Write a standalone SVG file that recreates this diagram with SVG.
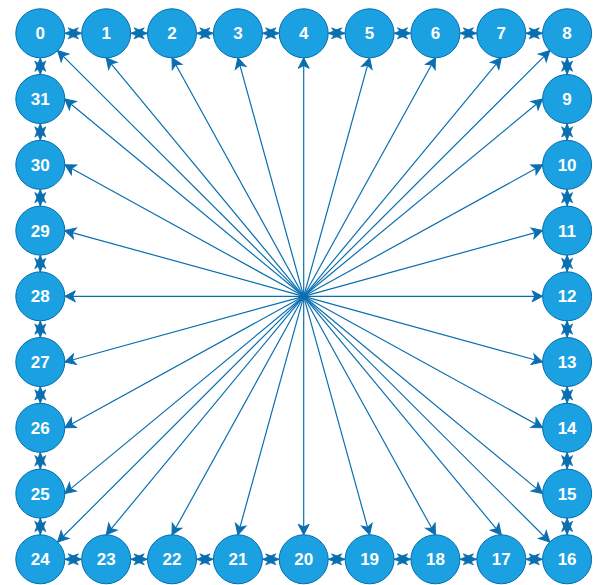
<svg xmlns="http://www.w3.org/2000/svg" width="598" height="585" viewBox="0 0 598 585">
<style>
.nd circle{fill:#1ba1e2;stroke:#006eaf;stroke-width:1}
.nd text{fill:#ffffff;font-family:"Liberation Sans",Arial,sans-serif;font-weight:bold;font-size:17px;text-anchor:middle}
.e{stroke:#0a6fb0;stroke-width:1.2;fill:none;marker-end:url(#ah)}
.b{stroke:#0a6fb0;stroke-width:1.2;fill:none;marker-end:url(#bt);marker-start:url(#bt)}
</style>
<defs>
<marker id="ah" viewBox="-12 -7 13 14" refX="0" refY="0" markerWidth="13" markerHeight="14" orient="auto-start-reverse" markerUnits="userSpaceOnUse">
<path d="M0,0 L-10.5,-5.5 L-7.8,0 L-10.5,5.5 Z" fill="#0a6fb0" stroke="#0a6fb0" stroke-width="1" stroke-linejoin="miter"/>
</marker>
<marker id="bt" viewBox="-15 -7 16 14" refX="0" refY="0" markerWidth="16" markerHeight="14" orient="auto-start-reverse" markerUnits="userSpaceOnUse">
<path d="M0,0 L-13.5,-5.5 L-10,0 L-13.5,5.5 Z" fill="#0a6fb0" stroke="#0a6fb0" stroke-width="0.8" stroke-linejoin="miter"/>
</marker>
</defs>
<rect width="598" height="585" fill="#ffffff"/>
<g id="connectors">
<line class="e" x1="303.7" y1="296.3" x2="57.6" y2="50.6"/>
<line class="e" x1="303.7" y1="296.3" x2="106.2" y2="57.8"/>
<line class="e" x1="303.7" y1="296.3" x2="172" y2="57.8"/>
<line class="e" x1="303.7" y1="296.3" x2="237.9" y2="57.8"/>
<line class="e" x1="303.7" y1="296.3" x2="303.7" y2="57.8"/>
<line class="e" x1="303.7" y1="296.3" x2="369.6" y2="57.8"/>
<line class="e" x1="303.7" y1="296.3" x2="435.4" y2="57.8"/>
<line class="e" x1="303.7" y1="296.3" x2="501.3" y2="57.8"/>
<line class="e" x1="303.7" y1="296.3" x2="549.8" y2="50.6"/>
<line class="e" x1="303.7" y1="296.3" x2="542.6" y2="99"/>
<line class="e" x1="303.7" y1="296.3" x2="542.6" y2="164.8"/>
<line class="e" x1="303.7" y1="296.3" x2="542.6" y2="230.6"/>
<line class="e" x1="303.7" y1="296.3" x2="542.6" y2="296.3"/>
<line class="e" x1="303.7" y1="296.3" x2="542.6" y2="362"/>
<line class="e" x1="303.7" y1="296.3" x2="542.6" y2="427.8"/>
<line class="e" x1="303.7" y1="296.3" x2="542.6" y2="493.6"/>
<line class="e" x1="303.7" y1="296.3" x2="549.8" y2="542"/>
<line class="e" x1="303.7" y1="296.3" x2="501.3" y2="534.8"/>
<line class="e" x1="303.7" y1="296.3" x2="435.4" y2="534.8"/>
<line class="e" x1="303.7" y1="296.3" x2="369.6" y2="534.8"/>
<line class="e" x1="303.7" y1="296.3" x2="303.7" y2="534.8"/>
<line class="e" x1="303.7" y1="296.3" x2="237.9" y2="534.8"/>
<line class="e" x1="303.7" y1="296.3" x2="172" y2="534.8"/>
<line class="e" x1="303.7" y1="296.3" x2="106.2" y2="534.8"/>
<line class="e" x1="303.7" y1="296.3" x2="57.6" y2="542"/>
<line class="e" x1="303.7" y1="296.3" x2="64.8" y2="493.6"/>
<line class="e" x1="303.7" y1="296.3" x2="64.8" y2="427.8"/>
<line class="e" x1="303.7" y1="296.3" x2="64.8" y2="362"/>
<line class="e" x1="303.7" y1="296.3" x2="64.8" y2="296.3"/>
<line class="e" x1="303.7" y1="296.3" x2="64.8" y2="230.6"/>
<line class="e" x1="303.7" y1="296.3" x2="64.8" y2="164.8"/>
<line class="e" x1="303.7" y1="296.3" x2="64.8" y2="99"/>
<line class="b" x1="64.8" y1="33.3" x2="81.7" y2="33.3"/>
<line class="b" x1="130.7" y1="33.3" x2="147.5" y2="33.3"/>
<line class="b" x1="196.5" y1="33.3" x2="213.4" y2="33.3"/>
<line class="b" x1="262.4" y1="33.3" x2="279.2" y2="33.3"/>
<line class="b" x1="328.2" y1="33.3" x2="345.1" y2="33.3"/>
<line class="b" x1="394.1" y1="33.3" x2="410.9" y2="33.3"/>
<line class="b" x1="459.9" y1="33.3" x2="476.8" y2="33.3"/>
<line class="b" x1="525.8" y1="33.3" x2="542.6" y2="33.3"/>
<line class="b" x1="64.8" y1="559.3" x2="81.7" y2="559.3"/>
<line class="b" x1="130.7" y1="559.3" x2="147.5" y2="559.3"/>
<line class="b" x1="196.5" y1="559.3" x2="213.4" y2="559.3"/>
<line class="b" x1="262.4" y1="559.3" x2="279.2" y2="559.3"/>
<line class="b" x1="328.2" y1="559.3" x2="345.1" y2="559.3"/>
<line class="b" x1="394.1" y1="559.3" x2="410.9" y2="559.3"/>
<line class="b" x1="459.9" y1="559.3" x2="476.8" y2="559.3"/>
<line class="b" x1="525.8" y1="559.3" x2="542.6" y2="559.3"/>
<line class="b" x1="40.3" y1="57.8" x2="40.3" y2="74.5"/>
<line class="b" x1="40.3" y1="123.5" x2="40.3" y2="140.3"/>
<line class="b" x1="40.3" y1="189.3" x2="40.3" y2="206.1"/>
<line class="b" x1="40.3" y1="255.1" x2="40.3" y2="271.8"/>
<line class="b" x1="40.3" y1="320.8" x2="40.3" y2="337.5"/>
<line class="b" x1="40.3" y1="386.5" x2="40.3" y2="403.3"/>
<line class="b" x1="40.3" y1="452.3" x2="40.3" y2="469.1"/>
<line class="b" x1="40.3" y1="518.1" x2="40.3" y2="534.8"/>
<line class="b" x1="567.1" y1="57.8" x2="567.1" y2="74.5"/>
<line class="b" x1="567.1" y1="123.5" x2="567.1" y2="140.3"/>
<line class="b" x1="567.1" y1="189.3" x2="567.1" y2="206.1"/>
<line class="b" x1="567.1" y1="255.1" x2="567.1" y2="271.8"/>
<line class="b" x1="567.1" y1="320.8" x2="567.1" y2="337.5"/>
<line class="b" x1="567.1" y1="386.5" x2="567.1" y2="403.3"/>
<line class="b" x1="567.1" y1="452.3" x2="567.1" y2="469.1"/>
<line class="b" x1="567.1" y1="518.1" x2="567.1" y2="534.8"/>
</g>
<g id="n0" class="nd"><circle cx="40.3" cy="33.3" r="24.5"/><text x="40.3" y="39.3">0</text></g>
<g id="n1" class="nd"><circle cx="106.2" cy="33.3" r="24.5"/><text x="106.2" y="39.3">1</text></g>
<g id="n2" class="nd"><circle cx="172" cy="33.3" r="24.5"/><text x="172" y="39.3">2</text></g>
<g id="n3" class="nd"><circle cx="237.9" cy="33.3" r="24.5"/><text x="237.9" y="39.3">3</text></g>
<g id="n4" class="nd"><circle cx="303.7" cy="33.3" r="24.5"/><text x="303.7" y="39.3">4</text></g>
<g id="n5" class="nd"><circle cx="369.6" cy="33.3" r="24.5"/><text x="369.6" y="39.3">5</text></g>
<g id="n6" class="nd"><circle cx="435.4" cy="33.3" r="24.5"/><text x="435.4" y="39.3">6</text></g>
<g id="n7" class="nd"><circle cx="501.3" cy="33.3" r="24.5"/><text x="501.3" y="39.3">7</text></g>
<g id="n8" class="nd"><circle cx="567.1" cy="33.3" r="24.5"/><text x="567.1" y="39.3">8</text></g>
<g id="n9" class="nd"><circle cx="567.1" cy="99" r="24.5"/><text x="567.1" y="105">9</text></g>
<g id="n10" class="nd"><circle cx="567.1" cy="164.8" r="24.5"/><text x="567.1" y="170.8">10</text></g>
<g id="n11" class="nd"><circle cx="567.1" cy="230.6" r="24.5"/><text x="567.1" y="236.6">11</text></g>
<g id="n12" class="nd"><circle cx="567.1" cy="296.3" r="24.5"/><text x="567.1" y="302.3">12</text></g>
<g id="n13" class="nd"><circle cx="567.1" cy="362" r="24.5"/><text x="567.1" y="368">13</text></g>
<g id="n14" class="nd"><circle cx="567.1" cy="427.8" r="24.5"/><text x="567.1" y="433.8">14</text></g>
<g id="n15" class="nd"><circle cx="567.1" cy="493.6" r="24.5"/><text x="567.1" y="499.6">15</text></g>
<g id="n16" class="nd"><circle cx="567.1" cy="559.3" r="24.5"/><text x="567.1" y="565.3">16</text></g>
<g id="n17" class="nd"><circle cx="501.3" cy="559.3" r="24.5"/><text x="501.3" y="565.3">17</text></g>
<g id="n18" class="nd"><circle cx="435.4" cy="559.3" r="24.5"/><text x="435.4" y="565.3">18</text></g>
<g id="n19" class="nd"><circle cx="369.6" cy="559.3" r="24.5"/><text x="369.6" y="565.3">19</text></g>
<g id="n20" class="nd"><circle cx="303.7" cy="559.3" r="24.5"/><text x="303.7" y="565.3">20</text></g>
<g id="n21" class="nd"><circle cx="237.9" cy="559.3" r="24.5"/><text x="237.9" y="565.3">21</text></g>
<g id="n22" class="nd"><circle cx="172" cy="559.3" r="24.5"/><text x="172" y="565.3">22</text></g>
<g id="n23" class="nd"><circle cx="106.2" cy="559.3" r="24.5"/><text x="106.2" y="565.3">23</text></g>
<g id="n24" class="nd"><circle cx="40.3" cy="559.3" r="24.5"/><text x="40.3" y="565.3">24</text></g>
<g id="n25" class="nd"><circle cx="40.3" cy="493.6" r="24.5"/><text x="40.3" y="499.6">25</text></g>
<g id="n26" class="nd"><circle cx="40.3" cy="427.8" r="24.5"/><text x="40.3" y="433.8">26</text></g>
<g id="n27" class="nd"><circle cx="40.3" cy="362" r="24.5"/><text x="40.3" y="368">27</text></g>
<g id="n28" class="nd"><circle cx="40.3" cy="296.3" r="24.5"/><text x="40.3" y="302.3">28</text></g>
<g id="n29" class="nd"><circle cx="40.3" cy="230.6" r="24.5"/><text x="40.3" y="236.6">29</text></g>
<g id="n30" class="nd"><circle cx="40.3" cy="164.8" r="24.5"/><text x="40.3" y="170.8">30</text></g>
<g id="n31" class="nd"><circle cx="40.3" cy="99" r="24.5"/><text x="40.3" y="105">31</text></g>
</svg>
